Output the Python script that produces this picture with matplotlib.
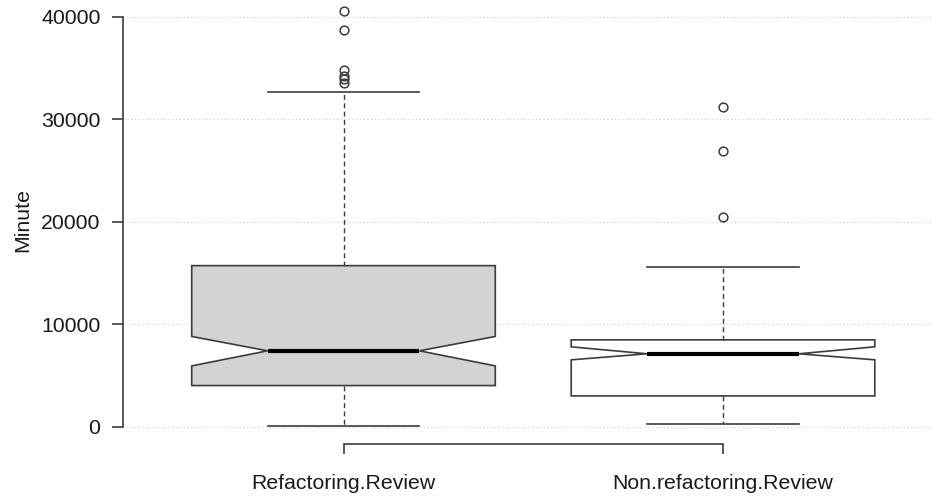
import matplotlib
matplotlib.use("Agg")
import matplotlib.pyplot as plt

plt.rcParams['font.family'] = ['Liberation Sans', 'DejaVu Sans']

# ---- data ----
categories = ["Refactoring.Review", "Non.refactoring.Review"]
q1 = [4040, 3030]
median = [7430, 7140]
q3 = [15740, 8500]
whisker_low = [130, 260]
whisker_high = [32650, 15570]
notch_low = [5960, 6550]
notch_high = [8830, 7820]
outliers = [
    [40560, 38710, 34870, 34250, 33920, 33510],
    [31250, 26910, 20460],
]
fill_colors = ["#d3d3d3", "#ffffff"]
y_ticks = [0, 10000, 20000, 30000, 40000]
y_label = "Minute"

# ---- figure ----
W, H = 932, 496
fig = plt.figure(figsize=(W / 100, H / 100), dpi=100)
left_px, right_px = 123.4, 943.1
bottom_px, top_px = 443.6, -5.4
ax = fig.add_axes([left_px / W, (H - bottom_px) / H,
                   (right_px - left_px) / W, (bottom_px - top_px) / H])

stats = []
for i, name in enumerate(categories):
    stats.append(dict(label=name, q1=q1[i], med=median[i], q3=q3[i],
                      whislo=whisker_low[i], whishi=whisker_high[i],
                      cilo=notch_low[i], cihi=notch_high[i],
                      fliers=outliers[i]))

edge = "#3c3c3c"
bp = ax.bxp(stats, positions=[1, 2], widths=0.8, shownotches=True,
            patch_artist=True,
            boxprops=dict(edgecolor=edge, linewidth=1.2),
            medianprops=dict(color="black", linewidth=3.0, solid_capstyle="butt"),
            whiskerprops=dict(color=edge, linewidth=1.0, linestyle=(0, (3.5, 2.5))),
            capprops=dict(color=edge, linewidth=1.2),
            flierprops=dict(marker="o", markersize=6.3, markerfacecolor="none",
                            markeredgecolor=edge, markeredgewidth=1.1, linestyle="none"))
for patch, c in zip(bp["boxes"], fill_colors):
    patch.set_facecolor(c)
    patch.set_zorder(2)
for ln in bp["medians"]:
    ln.set_zorder(3)

ax.set_xlim(0.42, 2.58)
ax.set_ylim(-1622, 42182)

ax.set_yticks(y_ticks)
ax.set_yticklabels([str(v) for v in y_ticks])
ax.set_xticks([1, 2])
ax.set_xticklabels(categories)

ax.yaxis.grid(True, linestyle=(0, (1, 2)), color="#d0d0d0", linewidth=0.9)
ax.xaxis.grid(False)
ax.set_axisbelow(True)

for s in ("top", "right"):
    ax.spines[s].set_visible(False)
ax.spines["left"].set_bounds(0, 40000)
ax.spines["bottom"].set_bounds(1, 2)
for s in ("left", "bottom"):
    ax.spines[s].set_color(edge)
    ax.spines[s].set_linewidth(1.2)

fs = 15.3
ax.tick_params(axis="y", direction="out", length=8, width=1.2, color=edge,
               pad=8.5, labelsize=fs, labelcolor="#1a1a1a")
ax.tick_params(axis="x", direction="out", length=7.2, width=1.2, color=edge,
               pad=15.0, labelsize=fs, labelcolor="#1a1a1a")

ax.set_ylabel(y_label, fontsize=fs, color="#1a1a1a", va="center")
ax.yaxis.set_label_coords(-0.1225, 0.497)

fig.savefig("out.png", dpi=100)
